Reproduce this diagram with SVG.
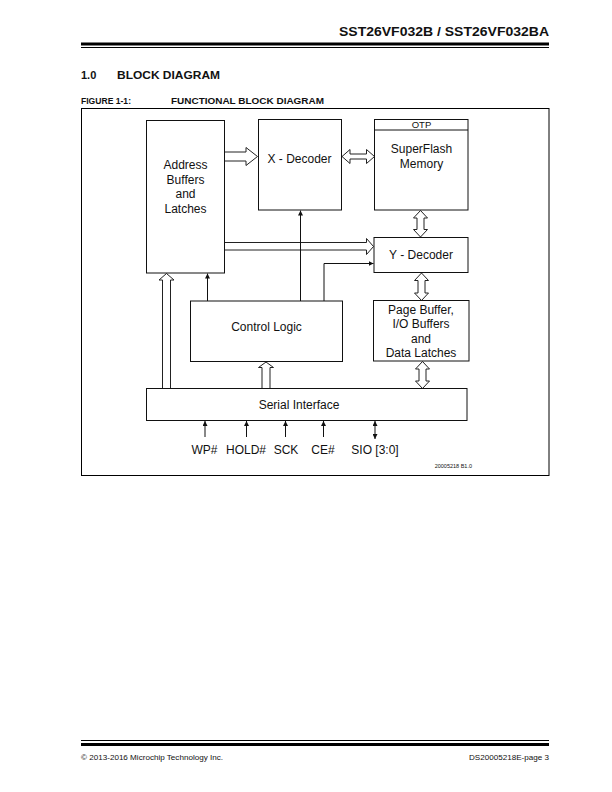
<svg xmlns="http://www.w3.org/2000/svg" width="612" height="792" viewBox="0 0 612 792">
<defs>
<style>
.t{font-family:"Liberation Sans",Arial,sans-serif;fill:#111}
.b{font-weight:bold}
.box{fill:#fff;stroke:#111;stroke-width:1}
.hol{fill:#fff;stroke:#222;stroke-width:1;stroke-linejoin:miter}
.ln{fill:none;stroke:#111;stroke-width:1}
.lbl{font-size:12px;text-anchor:middle}
</style>
<marker id="ah" viewBox="0 0 6 6" refX="6" refY="3" markerWidth="5" markerHeight="5" orient="auto-start-reverse" markerUnits="userSpaceOnUse">
<path d="M0,0 L6,3 L0,6 Z" fill="#111"/>
</marker>
</defs>
<rect width="612" height="792" fill="#fff"/>

<!-- header -->
<text class="t b" x="549" y="36" font-size="13" text-anchor="end" textLength="210" lengthAdjust="spacingAndGlyphs">SST26VF032B / SST26VF032BA</text>
<rect x="81" y="42.5" width="468" height="3" fill="#000"/>
<rect x="81" y="47" width="468" height="1" fill="#000"/>

<text class="t b" x="81" y="79" font-size="11">1.0</text>
<text class="t b" x="117" y="79" font-size="10.5" textLength="103" lengthAdjust="spacingAndGlyphs">BLOCK DIAGRAM</text>
<text class="t b" x="81" y="103.5" font-size="9" textLength="50" lengthAdjust="spacingAndGlyphs">FIGURE 1-1:</text>
<text class="t b" x="171" y="103.5" font-size="9" textLength="153" lengthAdjust="spacingAndGlyphs">FUNCTIONAL BLOCK DIAGRAM</text>

<!-- frame -->
<rect x="81.5" y="108.5" width="467.5" height="367" fill="none" stroke="#000" stroke-width="1"/>

<!-- connectors -->
<g id="connectors">
<path class="hol" d="M224.5,152 L246,152 L246,147.5 L257.5,156.5 L246,165.5 L246,161 L224.5,161"/>
<path class="hol" d="M342,156.5 L350,149.5 L350,154 L366.5,154 L366.5,149.5 L374.5,156.5 L366.5,163.5 L366.5,159 L350,159 L350,163.5 Z"/>
<path class="hol" d="M224.5,242.5 L366.5,242.5 L366.5,238.5 L373.5,246.5 L366.5,254.5 L366.5,250 L224.5,250"/>
<path class="hol" d="M420.5,210.5 L427.5,218 L424,218 L424,229.5 L427.5,229.5 L420.5,237 L413.5,229.5 L417,229.5 L417,218 L413.5,218 Z"/>
<path class="hol" d="M421.5,273 L428.5,280.5 L425,280.5 L425,293 L428.5,293 L421.5,300.5 L414.5,293 L418,293 L418,280.5 L414.5,280.5 Z"/>
<path class="hol" d="M422.5,361.5 L429.5,369 L426,369 L426,381 L429.5,381 L422.5,388.5 L415.5,381 L419,381 L419,369 L415.5,369 Z"/>
<path class="hol" d="M162.5,388.5 L162.5,280 L159,280 L166.5,273.5 L174,280 L170.5,280 L170.5,388.5"/>
<path class="hol" d="M262,388.5 L262,367.5 L258.5,367.5 L266,362 L273.5,367.5 L270,367.5 L270,388.5"/>
<path class="ln" d="M207.5,301 L207.5,273.5" marker-end="url(#ah)"/>
<path class="ln" d="M300.5,301 L300.5,210.5" marker-end="url(#ah)"/>
<path class="ln" d="M324,301 L324,263.5 L373.5,263.5" marker-end="url(#ah)"/>
<path class="ln" d="M205,437 L205,421" marker-end="url(#ah)"/>
<path class="ln" d="M246.5,437 L246.5,421" marker-end="url(#ah)"/>
<path class="ln" d="M285.5,437 L285.5,421" marker-end="url(#ah)"/>
<path class="ln" d="M323.5,437 L323.5,421" marker-end="url(#ah)"/>
<path class="ln" d="M375,439 L375,421" marker-start="url(#ah)" marker-end="url(#ah)"/>
</g>

<!-- nodes -->
<g id="address">
<rect class="box" x="146.5" y="120.5" width="78" height="152.5"/>
<text class="t lbl" x="185.5" y="169">Address</text>
<text class="t lbl" x="185.5" y="183.5">Buffers</text>
<text class="t lbl" x="185.5" y="198">and</text>
<text class="t lbl" x="185.5" y="212.5">Latches</text>
</g>
<g id="xdecoder">
<rect class="box" x="258.5" y="119.5" width="83" height="90.5"/>
<text class="t lbl" x="299.5" y="163">X - Decoder</text>
</g>
<g id="superflash">
<rect class="box" x="374.5" y="119.5" width="93.5" height="90.5"/>
<line x1="374.5" y1="130" x2="468" y2="130" stroke="#111" stroke-width="1"/>
<text class="t" x="421.5" y="128" font-size="9.5" text-anchor="middle">OTP</text>
<text class="t lbl" x="421.5" y="153">SuperFlash</text>
<text class="t lbl" x="421.5" y="167.5">Memory</text>
</g>
<g id="ydecoder">
<rect class="box" x="374" y="237.5" width="94" height="35"/>
<text class="t lbl" x="421" y="259">Y - Decoder</text>
</g>
<g id="control">
<rect class="box" x="190.5" y="301" width="152" height="60.5"/>
<text class="t lbl" x="266.5" y="331">Control Logic</text>
</g>
<g id="pagebuffer">
<rect class="box" x="373.5" y="300.5" width="95.5" height="60.5"/>
<text class="t lbl" x="421" y="313.5">Page Buffer,</text>
<text class="t lbl" x="421" y="328">I/O Buffers</text>
<text class="t lbl" x="421" y="342.5">and</text>
<text class="t lbl" x="421" y="357">Data Latches</text>
</g>
<g id="serial">
<rect class="box" x="146.5" y="388.5" width="320.5" height="32"/>
<text class="t lbl" x="299" y="409">Serial Interface</text>
</g>
<g id="pins">
<text class="t lbl" x="204.5" y="454">WP#</text>
<text class="t lbl" x="246" y="454">HOLD#</text>
<text class="t lbl" x="286" y="454">SCK</text>
<text class="t lbl" x="323" y="454">CE#</text>
<text class="t lbl" x="375" y="454">SIO [3:0]</text>
</g>
<text class="t" x="472" y="467.5" font-size="5.5" text-anchor="end">20005218 B1.0</text>

<!-- footer -->
<rect x="81" y="740" width="468" height="1" fill="#000"/>
<rect x="81" y="743" width="468" height="3" fill="#000"/>
<text class="t" x="81" y="760" font-size="7.5" textLength="142" lengthAdjust="spacingAndGlyphs">© 2013-2016 Microchip Technology Inc.</text>
<text class="t" x="549" y="760" font-size="7.5" text-anchor="end" textLength="80" lengthAdjust="spacingAndGlyphs">DS20005218E-page 3</text>
</svg>
